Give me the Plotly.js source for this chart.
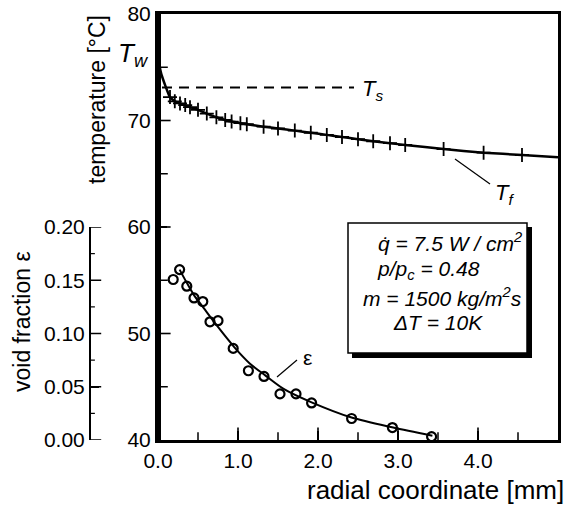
<!DOCTYPE html>
<html>
<head>
<meta charset="utf-8">
<script src="https://cdn.plot.ly/plotly-3.0.1.min.js"></script>
<style>html,body{margin:0;padding:0;background:#fff;}#chart{width:568px;height:511px;}</style>
</head>
<body>
<div id="chart"></div>
<script>
// ---- data ----
// fluid temperature profile T_f (line)
const tfLineR = [0, 0.02, 0.04, 0.066, 0.09, 0.11, 0.15, 0.21, 0.275, 0.34, 0.40, 0.50, 0.61, 0.73, 0.84, 0.92, 1.03, 1.11, 1.32, 1.50, 1.71, 1.91, 2.11, 2.30, 2.50, 2.69, 2.90, 3.09, 3.57, 4.07, 4.55, 5.0];
const tfLineT = [76.0, 75.1, 74.4, 73.8, 73.3, 72.9, 72.2, 71.8, 71.6, 71.45, 71.25, 71.0, 70.65, 70.3, 70.05, 69.9, 69.75, 69.65, 69.42, 69.25, 69.05, 68.85, 68.65, 68.45, 68.25, 68.05, 67.87, 67.7, 67.32, 66.98, 66.76, 66.54];
// measured temperature points (+)
const tfPtsR = [0.15, 0.21, 0.275, 0.34, 0.40, 0.50, 0.61, 0.73, 0.84, 0.92, 1.03, 1.11, 1.32, 1.50, 1.71, 1.91, 2.11, 2.30, 2.50, 2.69, 2.90, 3.09, 3.57, 4.07, 4.55];
const tfPtsT = [72.2, 71.8, 71.6, 71.45, 71.25, 71.0, 70.65, 70.3, 70.05, 69.9, 69.75, 69.65, 69.42, 69.25, 69.05, 68.85, 68.65, 68.45, 68.25, 68.05, 67.87, 67.7, 67.32, 66.98, 66.76];
// saturation temperature T_s (dashed)
const tsR = [0.05, 2.45];
const tsT = [73.1, 73.1];
// void fraction measured (o)
const epsPtsR = [0.19, 0.27, 0.36, 0.45, 0.56, 0.65, 0.75, 0.94, 1.13, 1.325, 1.525, 1.725, 1.92, 2.42, 2.93, 3.42];
const epsPtsV = [0.1507, 0.160, 0.1444, 0.1334, 0.130, 0.111, 0.112, 0.086, 0.065, 0.0597, 0.0433, 0.0433, 0.0348, 0.0202, 0.0117, 0.0031];
// void fraction fit (line)
const epsFitR = [0.27, 0.36, 0.45, 0.57, 0.73, 0.95, 1.15, 1.34, 1.57, 1.92, 2.42, 2.94, 3.43];
const epsFitV = [0.160, 0.1476, 0.136, 0.124, 0.108, 0.0875, 0.0717, 0.0607, 0.048, 0.0354, 0.0211, 0.0117, 0.0040];
// axis ranges / tick values
const xRange = [0, 5], xStep = 1;
const yRange = [40, 80], yStep = 10;
const y2Range = [0, 0.2], y2Step = 0.05;
const xMajorTicks = [1, 2, 3, 4];
const xMinorTicks = [0.5, 1.5, 2.5, 3.5, 4.5];
const yMajorTicks = [50, 60, 70];
const yMinorTicks = [45, 55, 65, 75];
const y2MajorTicks = [0, 0.05, 0.10, 0.15, 0.20];
const y2MinorTicks = [0.025, 0.075, 0.125, 0.175];

// ---- layout helpers (pixel -> paper) ----
const W = 568, H = 511, ML = 60, MR = 10, MT = 14, MB = 71;
const PW = W - ML - MR, PH = H - MT - MB;
const px = p => (p - ML) / PW;
const py = p => (H - MB - p) / PH;

const FONT = 'Liberation Sans, Arial, sans-serif';
const black = '#000';

const tickMark = (sym, size, w) => ({symbol: sym, size: size, color: black, line: {color: black, width: w}});

const traces = [
  {x: tsR, y: tsT, mode: 'lines', line: {color: black, width: 2, dash: '10px,7px'}, xaxis: 'x', yaxis: 'y'},
  {x: tfLineR, y: tfLineT, mode: 'lines', line: {color: black, width: 2.5, shape: 'spline', smoothing: 0.6}, xaxis: 'x', yaxis: 'y'},
  {x: tfPtsR, y: tfPtsT, mode: 'markers', marker: {symbol: 'cross-thin', size: 10, line: {color: black, width: 1.8}}, xaxis: 'x', yaxis: 'y'},
  {x: epsFitR, y: epsFitV, mode: 'lines', line: {color: black, width: 2, shape: 'spline', smoothing: 0.8}, xaxis: 'x', yaxis: 'y2'},
  {x: epsPtsR, y: epsPtsV, mode: 'markers', marker: {symbol: 'circle-open', size: 9, color: black, line: {color: black, width: 2.2}}, xaxis: 'x', yaxis: 'y2'},
  // inside tick marks, drawn on thin helper strips that share the axis scales (clipped so only the inner half shows)
  {x: xMajorTicks, y: xMajorTicks.map(() => 0), mode: 'markers', marker: tickMark('line-ns', 18, 1.6), xaxis: 'x3', yaxis: 'y3', cliponaxis: true},
  {x: xMinorTicks, y: xMinorTicks.map(() => 0), mode: 'markers', marker: tickMark('line-ns', 11, 1.5), xaxis: 'x3', yaxis: 'y3', cliponaxis: true},
  {x: yMajorTicks.map(() => 0), y: yMajorTicks, mode: 'markers', marker: tickMark('line-ew', 18, 1.6), xaxis: 'x4', yaxis: 'y4', cliponaxis: true},
  {x: yMinorTicks.map(() => 0), y: yMinorTicks, mode: 'markers', marker: tickMark('line-ew', 14, 1.5), xaxis: 'x4', yaxis: 'y4', cliponaxis: true},
  {x: y2MajorTicks.map(() => 0), y: y2MajorTicks, mode: 'markers', marker: tickMark('line-ew', 16, 1.5), xaxis: 'x2', yaxis: 'y2', cliponaxis: true},
  {x: y2MinorTicks.map(() => 0), y: y2MinorTicks, mode: 'markers', marker: tickMark('line-ew', 7, 1.2), xaxis: 'x2', yaxis: 'y2', cliponaxis: true}
];

const tickFont = {family: FONT, size: 21, color: black};

const layout = {
  width: W, height: H,
  margin: {l: ML, r: MR, t: MT, b: MB, autoexpand: false},
  paper_bgcolor: '#fff',
  plot_bgcolor: 'rgba(0,0,0,0)',
  showlegend: false,
  font: {family: FONT, color: black},
  xaxis: {
    domain: [px(158), 1],
    range: xRange,
    tickmode: 'linear', tick0: 0, dtick: xStep, tickformat: '.1f',
    ticks: 'inside', ticklen: 9, tickwidth: 1.6, tickcolor: black,
    showline: true, linewidth: 3, linecolor: black, mirror: true,
    showgrid: false, zeroline: false,
    tickfont: tickFont, automargin: false, anchor: 'y'
  },
  xaxis2: {domain: [px(90), px(120)], range: [0, 1], anchor: 'y2', visible: false, fixedrange: true},
  xaxis3: {domain: [px(158), 1], range: xRange, anchor: 'y3', visible: false, fixedrange: true},
  yaxis3: {domain: [0, 14 / PH], range: [0, 1], anchor: 'x3', visible: false, fixedrange: true},
  xaxis4: {domain: [px(158), px(174)], range: [0, 1], anchor: 'y4', visible: false, fixedrange: true},
  yaxis4: {domain: [0, 1], range: yRange, anchor: 'x4', visible: false, fixedrange: true},
  yaxis: {
    domain: [0, 1],
    range: yRange,
    tickmode: 'linear', tick0: 40, dtick: yStep,
    ticks: 'inside', ticklen: 9, tickwidth: 1.6, tickcolor: black,
    showline: true, linewidth: 3, linecolor: black, mirror: true,
    showgrid: false, zeroline: false,
    tickfont: tickFont, automargin: false, anchor: 'x'
  },
  yaxis2: {
    domain: [0, 0.5],
    range: y2Range,
    anchor: 'free', position: px(90), side: 'left',
    tickmode: 'linear', tick0: 0, dtick: y2Step, tickformat: '.2f',
    ticks: 'inside', ticklen: 8, tickwidth: 1.5, tickcolor: black,
    showline: true, linewidth: 2, linecolor: black,
    showgrid: false, zeroline: false,
    tickfont: tickFont, automargin: false
  },
  shapes: [
    // thicker left wall line
    {type: 'line', xref: 'paper', yref: 'paper', x0: px(159), x1: px(159), y0: py(440), y1: py(13), line: {color: black, width: 4}},
    // info box shadow + box
    {type: 'rect', xref: 'paper', yref: 'paper', x0: px(352), x1: px(532), y0: py(358), y1: py(227), fillcolor: black, line: {width: 0}},
    {type: 'rect', xref: 'paper', yref: 'paper', x0: px(348), x1: px(527), y0: py(353), y1: py(223), fillcolor: '#fff', line: {color: black, width: 1.5}},
    // leader lines
    {type: 'line', xref: 'paper', yref: 'paper', x0: px(455), y0: py(159), x1: px(490), y1: py(184), line: {color: black, width: 1.2}},
    {type: 'line', xref: 'paper', yref: 'paper', x0: px(277), y0: py(377), x1: px(297), y1: py(360), line: {color: black, width: 1.2}}
  ],
  annotations: [
    {text: 'temperature [°C]', xref: 'paper', yref: 'paper', x: px(97), y: py(100), textangle: -90, showarrow: false, font: {family: FONT, size: 23, color: black}, xanchor: 'center', yanchor: 'middle'},
    {text: 'void fraction ε', xref: 'paper', yref: 'paper', x: px(22), y: py(322), textangle: -90, showarrow: false, font: {family: FONT, size: 23, color: black}, xanchor: 'center', yanchor: 'middle'},
    {text: 'radial coordinate [mm]', xref: 'paper', yref: 'paper', x: px(566), y: py(490), showarrow: false, font: {family: FONT, size: 26, color: black}, xanchor: 'right', yanchor: 'middle'},
    {text: '<i>T<sub>w</sub></i>', xref: 'paper', yref: 'paper', x: px(133), y: py(55), showarrow: false, font: {family: FONT, size: 26, color: black}, xanchor: 'center', yanchor: 'middle'},
    {text: '<i>T<sub>s</sub></i>', xref: 'paper', yref: 'paper', x: px(372), y: py(90), showarrow: false, font: {family: FONT, size: 22, color: black}, xanchor: 'center', yanchor: 'middle'},
    {text: '<i>T<sub>f</sub></i>', xref: 'paper', yref: 'paper', x: px(504), y: py(194), showarrow: false, font: {family: FONT, size: 22, color: black}, xanchor: 'center', yanchor: 'middle'},
    {text: 'ε', xref: 'paper', yref: 'paper', x: px(307), y: py(357), showarrow: false, font: {family: FONT, size: 21, color: black}, xanchor: 'center', yanchor: 'middle'},
    {text: '<i>q̇ = 7.5 W / cm<sup>2</sup></i>', xref: 'paper', yref: 'paper', x: px(450), y: py(242), showarrow: false, font: {family: FONT, size: 21, color: black}, xanchor: 'center', yanchor: 'middle'},
    {text: '<i>p/p<sub>c</sub> = 0.48</i>', xref: 'paper', yref: 'paper', x: px(428), y: py(270), showarrow: false, font: {family: FONT, size: 21, color: black}, xanchor: 'center', yanchor: 'middle'},
    {text: '<i>m = 1500 kg/m<sup>2</sup>s</i>', xref: 'paper', yref: 'paper', x: px(442), y: py(297), showarrow: false, font: {family: FONT, size: 21, color: black}, xanchor: 'center', yanchor: 'middle'},
    {text: '<i>ΔT = 10K</i>', xref: 'paper', yref: 'paper', x: px(438), y: py(322), showarrow: false, font: {family: FONT, size: 21, color: black}, xanchor: 'center', yanchor: 'middle'}
  ]
};

Plotly.newPlot('chart', traces, layout, {displayModeBar: false, staticPlot: true});
</script>
</body>
</html>
